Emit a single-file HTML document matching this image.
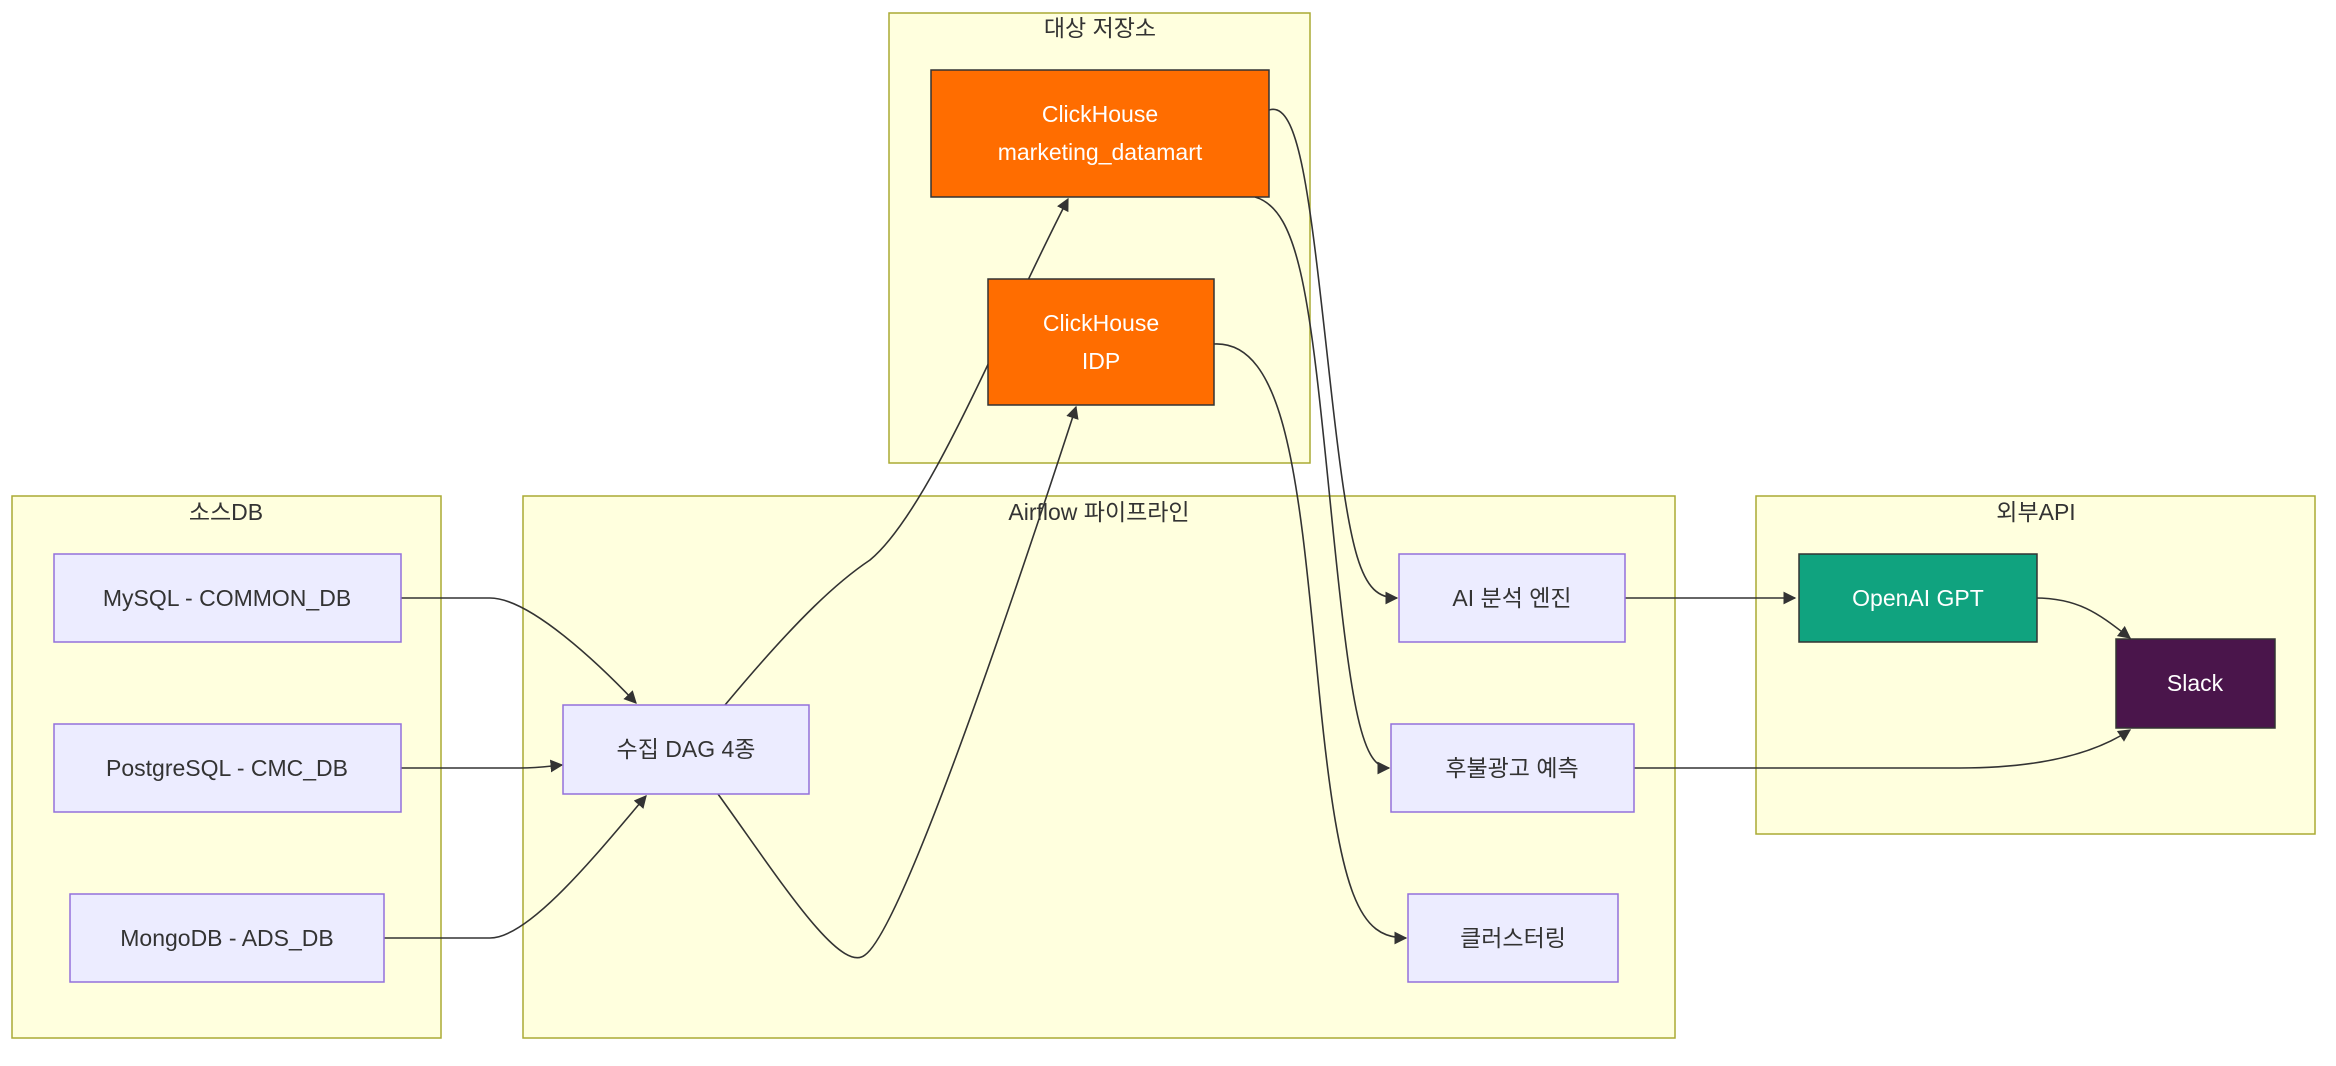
<!DOCTYPE html>
<html><head><meta charset="utf-8"><style>
html,body{margin:0;padding:0;background:#fff;}
svg text{font-family:"Liberation Sans","Noto Sans CJK KR",sans-serif;font-size:23px;}
</style></head><body>
<svg width="2336" height="1061" viewBox="0 0 2336 1061" xmlns="http://www.w3.org/2000/svg">
<defs><marker id="a" viewBox="0 0 10 10" refX="9" refY="5" markerWidth="8" markerHeight="8" orient="auto"><path d="M0,0L10,5L0,10z" fill="#333"/></marker></defs>
<g fill="#ffffde" stroke="#aaaa33" stroke-width="1.5">
<rect x="889" y="13" width="421" height="450"/>
<rect x="12" y="496" width="429" height="542"/>
<rect x="523" y="496" width="1152" height="542"/>
<rect x="1756" y="496" width="559" height="338"/>
</g>
<g fill="#333" text-anchor="middle">
<text x="1100" y="36">대상 저장소</text>
<text x="226" y="520">소스DB</text>
<text x="1099" y="520">Airflow 파이프라인</text>
<text x="2036" y="520">외부API</text>
</g>
<g fill="none" stroke="#333" stroke-width="1.6">
<path d="M401,598 L490,598 C530,598 600,665 636,703" marker-end="url(#a)"/>
<path d="M401,768 L520,768 C540,768 550,766 562,765" marker-end="url(#a)"/>
<path d="M384,938 L490,938 C530,938 600,850 646,796" marker-end="url(#a)"/>
<path d="M725,705 C800,615 840,580 870,560 C930,510 1000,330 1068,199" marker-end="url(#a)"/>
<path d="M718,794 C780,880 840,975 865,955 C900,930 1000,640 1076,407" marker-end="url(#a)"/>
<path d="M1269,110 C1300,100 1310,200 1330,380 C1350,560 1360,598 1397,598" marker-end="url(#a)"/>
<path d="M1255,197 C1300,210 1310,300 1330,500 C1350,700 1360,768 1389,768" marker-end="url(#a)"/>
<path d="M1214,344 C1290,340 1300,500 1320,700 C1340,900 1360,938 1406,938" marker-end="url(#a)"/>
<path d="M1625,598 L1795,598" marker-end="url(#a)"/>
<path d="M2035,598 C2080,598 2100,615 2130,638" marker-end="url(#a)"/>
<path d="M1634,768 L1960,768 C2050,768 2100,750 2130,730" marker-end="url(#a)"/>
</g>
<g fill="#ECECFF" stroke="#9370DB" stroke-width="1.5">
<rect x="54" y="554" width="347" height="88"/>
<rect x="54" y="724" width="347" height="88"/>
<rect x="70" y="894" width="314" height="88"/>
<rect x="563" y="705" width="246" height="89"/>
<rect x="1399" y="554" width="226" height="88"/>
<rect x="1391" y="724" width="243" height="88"/>
<rect x="1408" y="894" width="210" height="88"/>
</g>
<rect x="931" y="70" width="338" height="127" fill="#ff6d00" stroke="#333" stroke-width="1.5"/>
<rect x="988" y="279" width="226" height="126" fill="#ff6d00" stroke="#333" stroke-width="1.5"/>
<rect x="1799" y="554" width="238" height="88" fill="#10a37f" stroke="#333" stroke-width="1.5"/>
<rect x="2116" y="639" width="159" height="89" fill="#4a154b" stroke="#333" stroke-width="1.5"/>
<g fill="#333" text-anchor="middle">
<text x="227" y="606">MySQL - COMMON_DB</text>
<text x="227" y="776">PostgreSQL - CMC_DB</text>
<text x="227" y="946">MongoDB - ADS_DB</text>
<text x="686" y="757">수집 DAG 4종</text>
<text x="1512" y="606">AI 분석 엔진</text>
<text x="1512" y="776">후불광고 예측</text>
<text x="1513" y="946">클러스터링</text>
</g>
<g fill="#fff" text-anchor="middle">
<text x="1100" y="122">ClickHouse</text>
<text x="1100" y="160">marketing_datamart</text>
<text x="1101" y="331">ClickHouse</text>
<text x="1101" y="369">IDP</text>
<text x="1918" y="606">OpenAI GPT</text>
<text x="2195" y="691">Slack</text>
</g>
</svg>
</body></html>
